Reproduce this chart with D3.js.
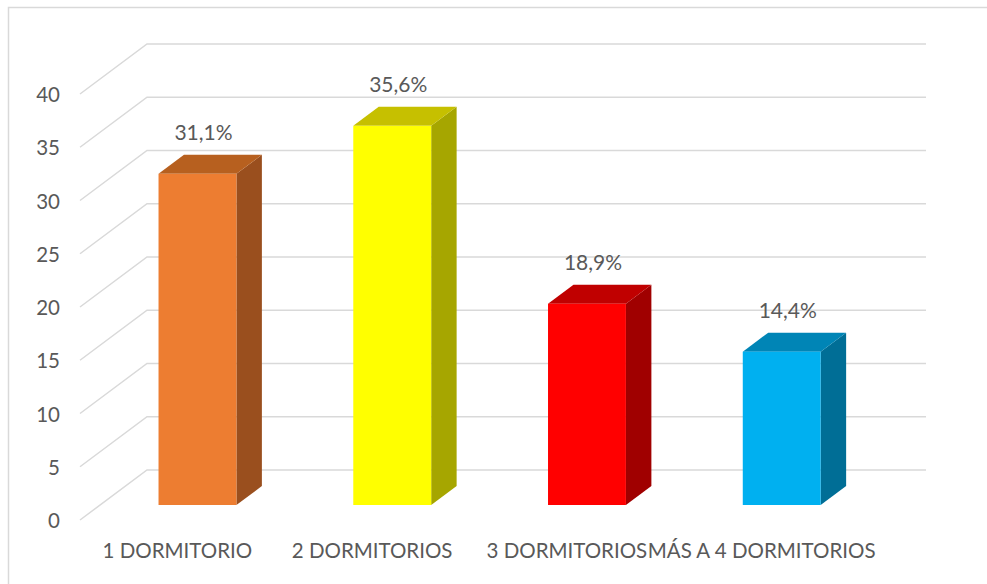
<!DOCTYPE html>
<html>
<head>
<meta charset="utf-8">
<script src="https://cdn.jsdelivr.net/npm/d3@7"></script>
<style>
  body { margin: 0; background: #fff; }
  text { font-family: Lato, "Liberation Sans", sans-serif; fill: #595959; }
</style>
</head>
<body>
<div id="chart"></div>
<script>
// data
var categories = ["1 DORMITORIO", "2 DORMITORIOS", "3 DORMITORIOS", "MÁS A 4 DORMITORIOS"];
var values = [31.1, 35.6, 18.9, 14.4];
var labels = ["31,1%", "35,6%", "18,9%", "14,4%"];
var yTicks = [0, 5, 10, 15, 20, 25, 30, 35, 40];
var frontColors = ["#ED7D31", "#FFFF00", "#FF0000", "#00B0F0"];
var topColors = ["#B7601F", "#C6C000", "#C00000", "#0085B6"];
var sideColors = ["#9A4F1E", "#A6A600", "#A00000", "#006E96"];

var width = 987, height = 584;

var svg = d3.select("#chart").append("svg")
  .attr("width", width)
  .attr("height", height);

// chart border
svg.append("rect")
  .attr("x", 8.5).attr("y", 7.5)
  .attr("width", 1000).attr("height", 600)
  .attr("fill", "none")
  .attr("stroke", "#d9d9d9")
  .attr("stroke-width", 1.5);

// perspective depth offset (full floor depth)
var depthX = 67, depthY = -50;
var frontDepth = 0.3, backDepth = 0.68;

var x = d3.scaleBand()
  .domain(categories)
  .range([80, 859])
  .paddingInner(0.6)
  .paddingOuter(0.3);

var y = d3.scaleLinear()
  .domain([0, 40])
  .range([520, 94]);

// gridlines: left diagonal + back wall
var grid = svg.append("g").attr("stroke", "#d9d9d9").attr("stroke-width", 1.5).attr("fill", "none");
yTicks.forEach(function(t) {
  grid.append("path")
    .attr("d", "M80," + y(t) + "L" + (80 + depthX) + "," + (y(t) + depthY) + "L" + (859 + depthX) + "," + (y(t) + depthY));
});

// y tick labels
svg.append("g").selectAll("text")
  .data(yTicks)
  .enter()
  .append("text")
  .attr("x", 60)
  .attr("y", function(d) { return y(d) + 8; })
  .attr("text-anchor", "end")
  .style("font-size", "20.5px")
  .text(function(d) { return d; });

// bars
var bars = svg.append("g").selectAll("g")
  .data(values)
  .enter()
  .append("g");

function pt(px, py) { return px + "," + py; }

bars.each(function(d, i) {
  var g = d3.select(this);
  var fx = x(categories[i]) + depthX * frontDepth;
  var fy0 = y(0) + depthY * frontDepth;
  var fy1 = y(d) + depthY * frontDepth;
  var w = x.bandwidth();
  var ddx = depthX * (backDepth - frontDepth);
  var ddy = depthY * (backDepth - frontDepth);

  // side
  g.append("polygon")
    .attr("points", [pt(fx + w, fy0), pt(fx + w + ddx, fy0 + ddy), pt(fx + w + ddx, fy1 + ddy), pt(fx + w, fy1)].join(" "))
    .attr("fill", sideColors[i]);
  // top
  g.append("polygon")
    .attr("points", [pt(fx, fy1), pt(fx + ddx, fy1 + ddy), pt(fx + w + ddx, fy1 + ddy), pt(fx + w, fy1)].join(" "))
    .attr("fill", topColors[i]);
  // front
  g.append("rect")
    .attr("x", fx).attr("y", fy1)
    .attr("width", w).attr("height", fy0 - fy1)
    .attr("fill", frontColors[i]);

  // data label
  g.append("text")
    .attr("x", fx + w / 2 + 6)
    .attr("y", fy1 + ddy - 15)
    .attr("text-anchor", "middle")
    .style("font-size", "21px")
    .text(labels[i]);
});

// x category labels
svg.append("g").selectAll("text")
  .data(categories)
  .enter()
  .append("text")
  .attr("x", function(d) { return x(d) + x.bandwidth() / 2; })
  .attr("y", 558)
  .attr("text-anchor", "middle")
  .style("font-size", "20.5px")
  .text(function(d) { return d; });
</script>
</body>
</html>
